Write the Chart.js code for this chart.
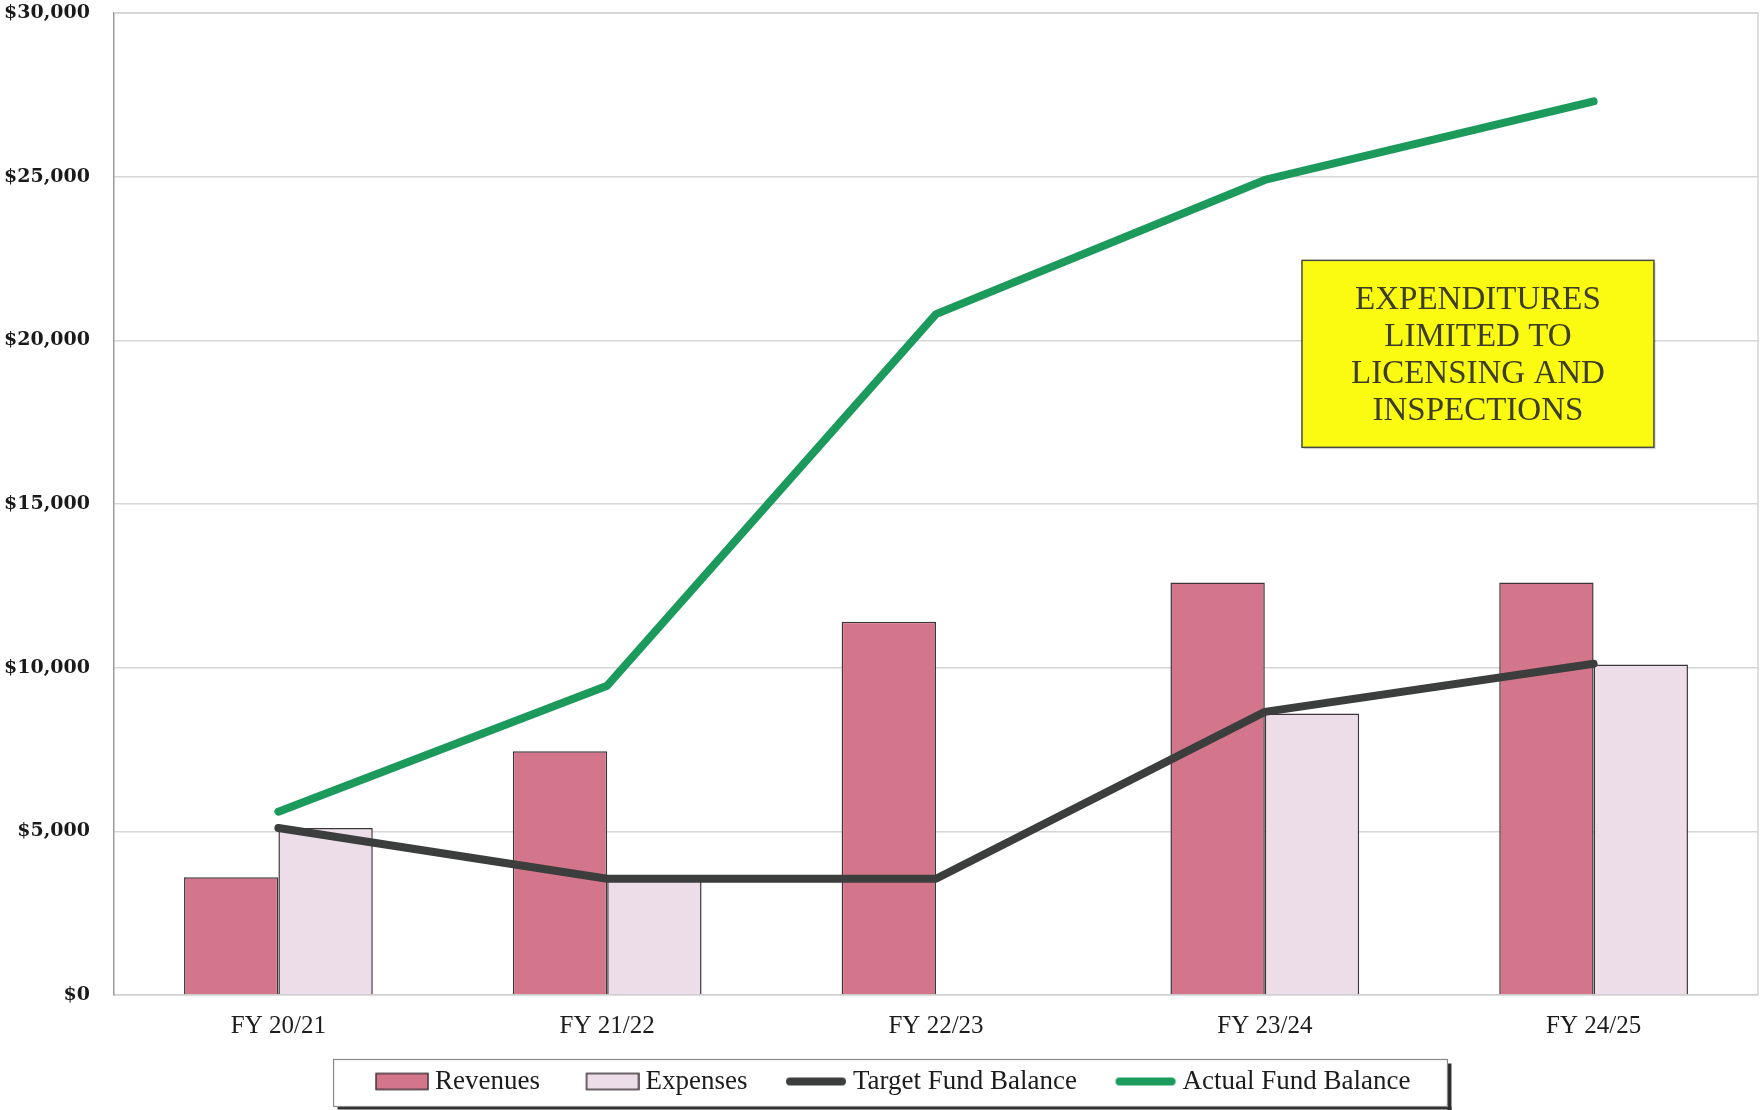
<!DOCTYPE html>
<html>
<head>
<meta charset="utf-8">
<script src="https://cdn.jsdelivr.net/npm/chart.js@4/dist/chart.umd.min.js"></script>
<style>
  html, body { margin: 0; padding: 0; background: #ffffff; }
  #wrap { width: 1764px; height: 1110px; }
</style>
</head>
<body>
<div id="wrap"><canvas id="c" width="1764" height="1110"></canvas></div>
<script>
// Fiscal years and fund figures (dollars)
const categories = ['FY 20/21', 'FY 21/22', 'FY 22/23', 'FY 23/24', 'FY 24/25'];
const revenues = [3600, 7450, 11400, 12600, 12600];
const expenses = [5100, 3500, null, 8600, 10100];
const targetFundBalance = [5100, 3550, 3550, 8650, 10120];
const actualFundBalance = [5600, 9450, 20800, 24900, 27300];

// Value axis range and step
const yMin = 0;
const yMax = 30000;
const yStep = 5000;

// Call-out note text
const noteLines = ['EXPENDITURES', 'LIMITED TO', 'LICENSING AND', 'INSPECTIONS'];

// Series colours
const revenueFill = '#d4768b';
const expenseFill = '#ecdde8';
const barEdge = '#3e3539';
const targetColor = '#3b3e3d';
const actualColor = '#1c9a5b';

// Legend swatch images: the mark sits at the right of the image so the
// label text follows it closely
const LEGEND_BOX = 50;
function rectSwatch(fill) {
  const c = document.createElement('canvas');
  c.width = LEGEND_BOX + 15; c.height = 22;
  const g = c.getContext('2d');
  g.fillStyle = fill;
  g.fillRect(c.width - 53, 3, 52, 16);
  g.strokeStyle = barEdge;
  g.lineWidth = 1.5;
  g.strokeRect(c.width - 53, 3, 52, 16);
  return c;
}
function lineSwatch(color) {
  const c = document.createElement('canvas');
  c.width = LEGEND_BOX + 15; c.height = 22;
  const g = c.getContext('2d');
  g.strokeStyle = color;
  g.lineWidth = 8;
  g.lineCap = 'round';
  g.beginPath();
  g.moveTo(c.width - 57, 11);
  g.lineTo(c.width - 5, 11);
  g.stroke();
  return c;
}

// Light frame around the plotting area
const framePlugin = {
  id: 'frame',
  beforeDatasetsDraw(chart) {
    const { ctx, chartArea: a } = chart;
    ctx.save();
    ctx.strokeStyle = '#d4d4d4';
    ctx.lineWidth = 1.5;
    ctx.beginPath();
    ctx.moveTo(a.left, a.top);
    ctx.lineTo(a.right, a.top);
    ctx.lineTo(a.right, a.bottom);
    ctx.stroke();
    ctx.restore();
  }
};

// Yellow note box in the upper right of the plot
const notePlugin = {
  id: 'note',
  afterDatasetsDraw(chart) {
    const { ctx, chartArea: a } = chart;
    const w = a.right - a.left;
    const h = a.bottom - a.top;
    const x0 = a.left + w * 0.7226;
    const x1 = a.left + w * 0.9367;
    const y0 = a.top + h * 0.2519;
    const y1 = a.top + h * 0.4423;
    ctx.save();
    ctx.fillStyle = 'rgba(0,0,0,0.12)';
    ctx.fillRect(x0 + 2, y0 + 2, x1 - x0, y1 - y0);
    ctx.fillStyle = '#fbfb12';
    ctx.fillRect(x0, y0, x1 - x0, y1 - y0);
    ctx.strokeStyle = '#4a4a44';
    ctx.lineWidth = 1.5;
    ctx.strokeRect(x0, y0, x1 - x0, y1 - y0);
    ctx.fillStyle = '#3e3d26';
    ctx.font = '33px "Liberation Serif", serif';
    ctx.textAlign = 'center';
    ctx.textBaseline = 'middle';
    const cx = (x0 + x1) / 2;
    const lh = 37.3;
    const startY = (y0 + y1) / 2 - lh * (noteLines.length - 1) / 2 + 2;
    noteLines.forEach((t, i) => ctx.fillText(t, cx, startY + i * lh));
    ctx.restore();
  }
};

// Bordered box with drop shadow behind the legend entries
const legendBoxPlugin = {
  id: 'legendBox',
  afterDraw(chart) {
    const lg = chart.legend;
    if (!lg || !lg.legendHitBoxes || !lg.legendHitBoxes.length) return;
    const boxes = lg.legendHitBoxes;
    let l = Infinity, r = -Infinity, cy = 0;
    boxes.forEach(b => {
      l = Math.min(l, b.left);
      r = Math.max(r, b.left + b.width);
      cy += b.top + b.height / 2;
    });
    cy /= boxes.length;
    const x0 = l - 38, x1 = r + 37, y0 = cy - 22, y1 = cy + 25;
    const { ctx } = chart;
    ctx.save();
    ctx.fillStyle = '#2e2e2e';
    ctx.fillRect(x1, y0 + 4, 4, y1 - y0);
    ctx.fillRect(x0 + 4, y1, x1 - x0, 3);
    ctx.strokeStyle = '#8a8a8a';
    ctx.lineWidth = 1.2;
    ctx.strokeRect(x0, y0, x1 - x0, y1 - y0);
    ctx.restore();
  }
};

const ctx = document.getElementById('c').getContext('2d');
new Chart(ctx, {
  type: 'bar',
  data: {
    labels: categories,
    datasets: [
      {
        label: 'Revenues',
        data: revenues,
        backgroundColor: revenueFill,
        borderColor: barEdge,
        borderWidth: 1.5,
        pointStyle: rectSwatch(revenueFill),
        categoryPercentage: 0.574,
        barPercentage: 1.0,
        order: 2
      },
      {
        label: 'Expenses',
        data: expenses,
        backgroundColor: expenseFill,
        borderColor: barEdge,
        borderWidth: 1.5,
        pointStyle: rectSwatch(expenseFill),
        categoryPercentage: 0.574,
        barPercentage: 1.0,
        order: 2
      },
      {
        type: 'line',
        label: 'Target Fund Balance',
        data: targetFundBalance,
        borderColor: targetColor,
        backgroundColor: targetColor,
        borderWidth: 8,
        borderCapStyle: 'round',
        borderJoinStyle: 'round',
        pointRadius: 0,
        pointStyle: lineSwatch(targetColor),
        tension: 0,
        order: 1
      },
      {
        type: 'line',
        label: 'Actual Fund Balance',
        data: actualFundBalance,
        borderColor: actualColor,
        backgroundColor: actualColor,
        borderWidth: 8,
        borderCapStyle: 'round',
        borderJoinStyle: 'round',
        pointRadius: 0,
        pointStyle: lineSwatch(actualColor),
        tension: 0,
        order: 0
      }
    ]
  },
  options: {
    responsive: false,
    animation: false,
    devicePixelRatio: 1,
    layout: { padding: { left: 24, right: 6, top: 13, bottom: 5 } },
    scales: {
      x: {
        grid: { display: false, drawTicks: false },
        border: { display: true, color: '#d0d0d0', width: 1.5 },
        ticks: {
          color: '#1c1c1c',
          padding: 16,
          font: { family: '"Liberation Serif", serif', size: 25 }
        },
        afterFit(scale) {
          scale.height = 31;
          // let the category labels extend below the axis box
          scale._computeLabelArea = () => undefined;
        }
      },
      y: {
        min: yMin,
        max: yMax,
        grid: { color: '#d6d6d6', lineWidth: 1.5, drawTicks: false },
        border: { display: true, color: '#9a9a9a', width: 1.5 },
        ticks: {
          stepSize: yStep,
          color: '#1a1a1a',
          padding: 24,
          font: { family: '"DejaVu Serif", serif', size: 19, weight: 'bold' },
          callback: v => '$' + Number(v).toLocaleString('en-US')
        },
        afterFit(scale) {
          scale.width = 90;
          scale.paddingTop = 0;
          scale.paddingBottom = 0;
          scale._computeLabelArea = () => undefined;
        }
      }
    },
    plugins: {
      title: { display: false },
      tooltip: { enabled: false },
      legend: {
        position: 'bottom',
        labels: {
          usePointStyle: true,
          pointStyleWidth: LEGEND_BOX,
          boxHeight: 16,
          padding: 42,
          color: '#1c1c1c',
          font: { family: '"Liberation Serif", serif', size: 27 },
          sort: (a, b) => a.datasetIndex - b.datasetIndex
        }
      }
    }
  },
  plugins: [framePlugin, notePlugin, legendBoxPlugin]
});
</script>
</body>
</html>
